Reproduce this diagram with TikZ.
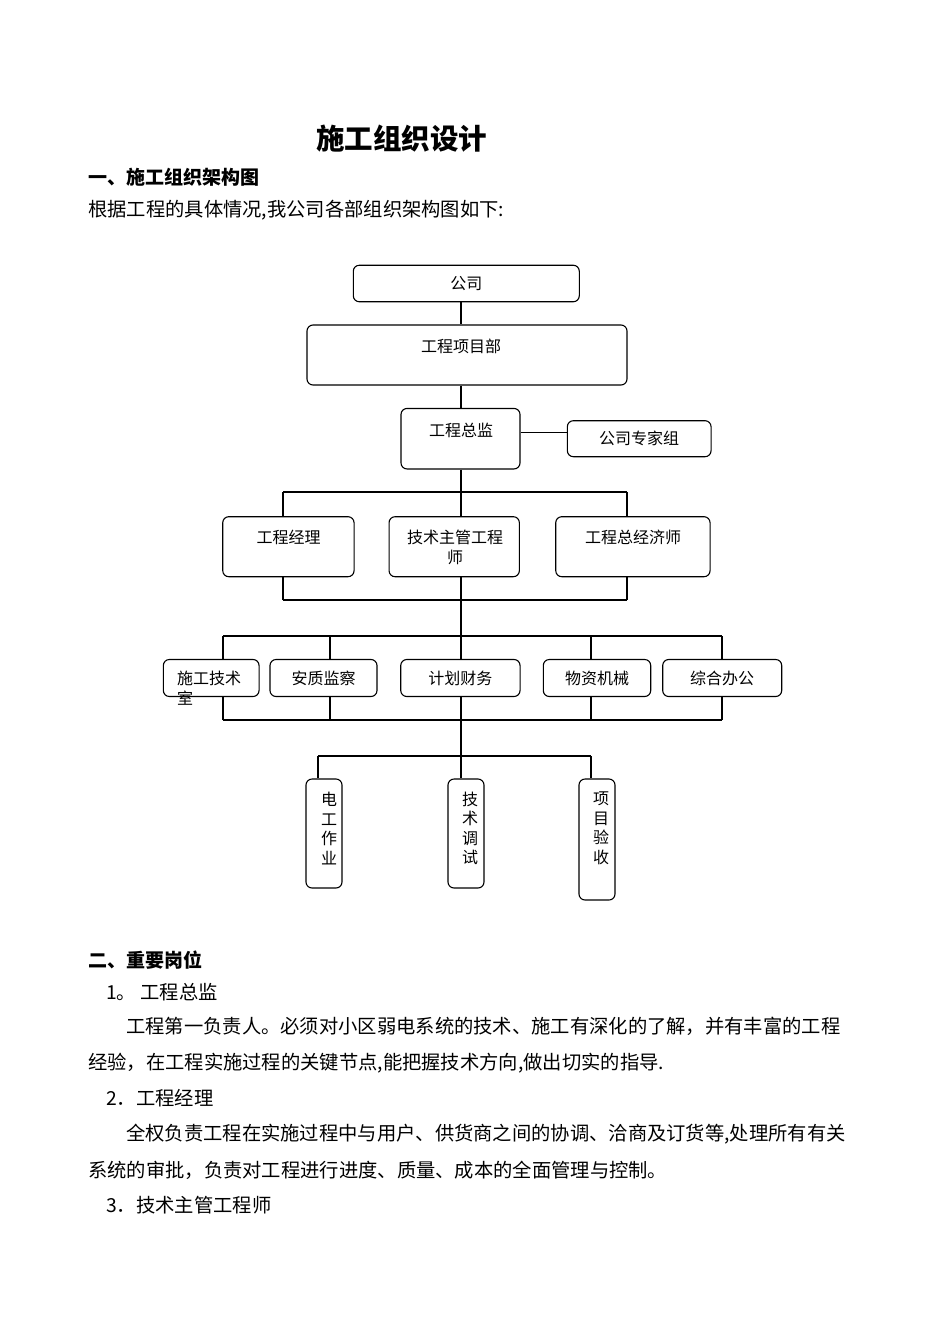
\documentclass[tikz,border=0pt]{standalone}
\usepackage{fontspec}
\setmainfont{Noto Sans CJK SC}
\usetikzlibrary{positioning,calc}

\tikzset{
  box/.style={draw, rounded corners=6pt, line width=1.1pt, inner sep=0pt},
  lbl/.style={font=\fontsize{16}{20}\selectfont, inner sep=0pt, align=center},
  link/.style={line width=1.1pt},
  body/.style={font=\fontsize{19.3}{24}\selectfont, anchor=west, inner sep=0pt},
  head/.style={font=\bfseries\fontsize{19}{24}\selectfont, anchor=west, inner sep=0pt}
}

\begin{document}
\begin{tikzpicture}[x=1pt,y=-1pt]
  % page
  \fill[white] (0,0) rectangle (950,1344);
  \useasboundingbox (0,0) rectangle (950,1344);

  % title and intro
  \node[font=\bfseries\fontsize{28.5}{30}\selectfont, inner sep=0pt] (title) at (401.5,139) {施工组织设计};
  \node[head] (sec1) at (88,177) {一、施工组织架构图};
  \node[body] (intro) at (88,210) {根据工程的具体情况,我公司各部组织架构图如下:};

  % top of the chart
  \coordinate (trunk) at (461,0);
  \node[box, lbl, minimum width=226pt, minimum height=36.5pt] (gs) at (466.3,283.5) {公司};
  \node[box, minimum width=320pt, minimum height=60pt] (xmb) at (467,355) {};
  \node[lbl] at (461,346) {工程项目部};
  \node[box, minimum width=119pt, minimum height=60.5pt] (zj) at (460.5,438.7) {};
  \node[lbl] at (461,430) {工程总监};
  \node[box, lbl, minimum width=143.7pt, minimum height=36pt] (zjz) at (639.2,438.7) {公司专家组};

  % second row
  \node[box, minimum width=131.3pt, minimum height=60pt] (jl) at (288.4,546.7) {};
  \node[lbl] at (288.5,537) {工程经理};
  \node[box, minimum width=130.3pt, minimum height=60pt] (jsz) at (454.2,546.7) {};
  \node[lbl] at (455,547) {技术主管工程\\师};
  \node[box, minimum width=154.3pt, minimum height=60pt] (jjs) at (632.9,546.7) {};
  \node[lbl] at (633,537) {工程总经济师};

  % departments
  \node[box, minimum width=95.7pt, minimum height=37pt] (sgj) at (211.2,678) {};
  \node[lbl, align=left, anchor=west] at (177,688.5) {施工技术\\室};
  \node[box, lbl, minimum width=107pt, minimum height=37pt] (azj) at (323.5,678) {安质监察};
  \node[box, lbl, minimum width=119.3pt, minimum height=37pt] (jhc) at (460.4,678) {计划财务};
  \node[box, lbl, minimum width=107.4pt, minimum height=37pt] (wzj) at (597,678) {物资机械};
  \node[box, lbl, minimum width=119pt, minimum height=37pt] (zhb) at (722.2,678) {综合办公};

  % teams
  \node[box, minimum width=36pt, minimum height=109pt] (dg) at (324,833.5) {};
  \node[lbl, font=\fontsize{16}{19.5}\selectfont] at (329,828.5) {电\\工\\作\\业};
  \node[box, minimum width=36pt, minimum height=109pt] (js) at (466,833.5) {};
  \node[lbl, font=\fontsize{16}{19.5}\selectfont] at (470,828.5) {技\\术\\调\\试};
  \node[box, minimum width=36pt, minimum height=121pt] (ys) at (597,839.5) {};
  \node[lbl, font=\fontsize{16}{19.5}\selectfont] at (601,828.5) {项\\目\\验\\收};

  % connectors
  \draw[link] (gs.south -| trunk) -- (xmb.north -| trunk);
  \draw[link] (xmb.south -| trunk) -- (zj.north -| trunk);
  \draw[link] ([yshift=6pt]zj.east) -- ([yshift=6pt]zj.east -| zjz.west);
  \draw[link] (zj.south -| trunk) -- (jsz.north -| trunk);
  \coordinate (b1l) at (283,492);
  \coordinate (b1r) at (627,492);
  \draw[link] (b1l) -- (b1r);
  \draw[link] (b1l) -- (b1l |- jl.north);
  \draw[link] (b1r) -- (b1r |- jjs.north);
  \coordinate (b2l) at (283,600);
  \coordinate (b2r) at (627,600);
  \draw[link] (b2l) -- (b2r);
  \draw[link] (b2l) -- (b2l |- jl.south);
  \draw[link] (b2r) -- (b2r |- jjs.south);
  \draw[link] (jsz.south -| trunk) -- (jhc.north -| trunk);
  \foreach \n/\x in {sgj/223, azj/330, wzj/591, zhb/722} {
    \coordinate (t\n) at (\x,636);
    \coordinate (u\n) at (\x,720);
    \draw[link] (t\n) -- (t\n |- \n.north);
    \draw[link] (u\n) -- (u\n |- \n.south);
  }
  \draw[link] (tsgj) -- (tzhb);
  \draw[link] (usgj) -- (uzhb);
  \draw[link] (jhc.south -| trunk) -- (js.north -| trunk);
  \coordinate (b5l) at (318,756);
  \coordinate (b5r) at (591,756);
  \draw[link] (b5l) -- (b5r);
  \draw[link] (b5l) -- (b5l |- dg.north);
  \draw[link] (b5r) -- (b5r |- ys.north);

  % key posts
  \node[head] (sec2) at (88,960) {二、重要岗位};
  \node[body] (p1t) at (106,992) {1。 工程总监};
  \node[body] (p1a) at (126,1026) {工程第一负责人。必须对小区弱电系统的技术、施工有深化的了解，并有丰富的工程};
  \node[body] (p1b) at (88,1063) {经验，在工程实施过程的关键节点,能把握技术方向,做出切实的指导.};
  \node[body] (p2t) at (106,1098) {2．工程经理};
  \node[body] (p2a) at (126,1134) {全权负责工程在实施过程中与用户、供货商之间的协调、洽商及订货等,处理所有有关};
  \node[body] (p2b) at (88,1170) {系统的审批，负责对工程进行进度、质量、成本的全面管理与控制。};
  \node[body] (p3t) at (106,1205) {3．技术主管工程师};
\end{tikzpicture}
\end{document}
